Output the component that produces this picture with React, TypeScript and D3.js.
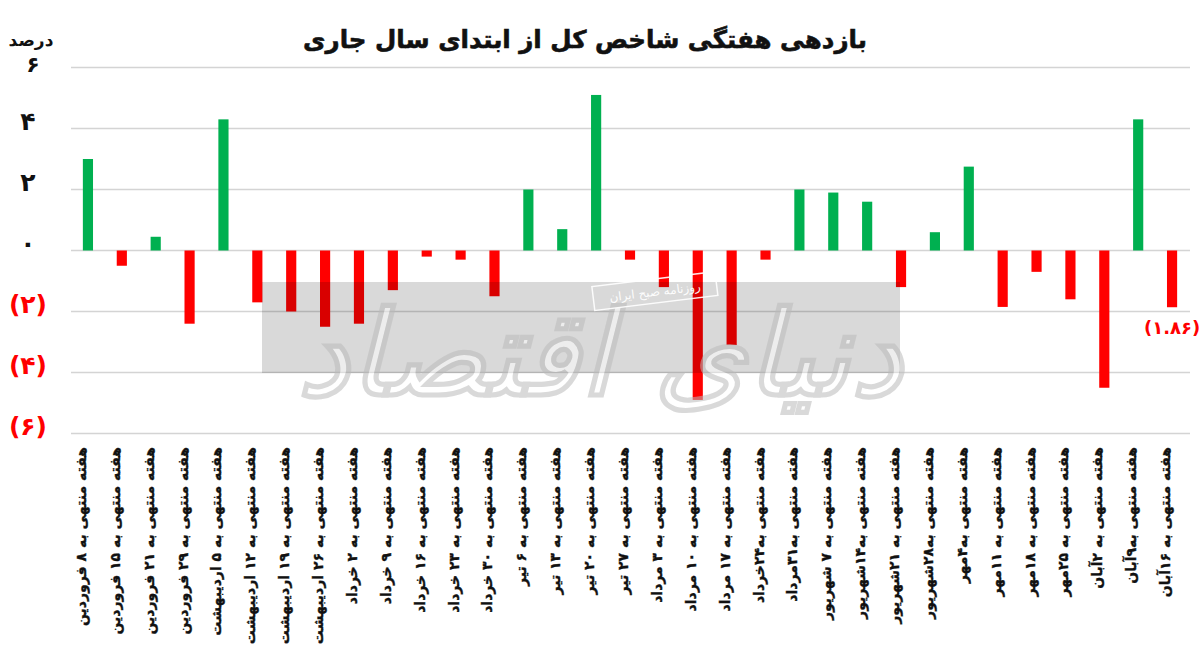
import React from "react";
import * as d3 from "d3";

const categories: string[] = [
  "هفته منتهی به ۸ فروردین",
  "هفته منتهی به ۱۵ فروردین",
  "هفته منتهی به ۲۱ فروردین",
  "هفته منتهی به ۲۹ فروردین",
  "هفته منتهی به ۵ اردیبهشت",
  "هفته منتهی به ۱۲ اردیبهشت",
  "هفته منتهی به ۱۹ اردیبهشت",
  "هفته منتهی به ۲۶ اردیبهشت",
  "هفته منتهی به ۲ خرداد",
  "هفته منتهی به ۹ خرداد",
  "هفته منتهی به ۱۶ خرداد",
  "هفته منتهی به ۲۳ خرداد",
  "هفته منتهی به ۳۰ خرداد",
  "هفته منتهی به ۶ تیر",
  "هفته منتهی به ۱۳ تیر",
  "هفته منتهی به ۲۰ تیر",
  "هفته منتهی به ۲۷ تیر",
  "هفته منتهی به ۳ مرداد",
  "هفته منتهی به ۱۰ مرداد",
  "هفته منتهی به ۱۷ مرداد",
  "هفته منتهی به۲۴خرداد",
  "هفته منتهی به۳۱مرداد",
  "هفته منتهی به ۷ شهریور",
  "هفته منتهی به۱۴شهریور",
  "هفته منتهی به ۲۱شهریور",
  "هفته منتهی به۲۸شهریور",
  "هفته منتهی به۴مهر",
  "هفته منتهی به ۱۱مهر",
  "هفته منتهی به ۱۸مهر",
  "هفته منتهی به ۲۵مهر",
  "هفته منتهی به ۲آبان",
  "هفته منتهی به۹آبان",
  "هفته منتهی به ۱۶آبان",
];

const values: number[] = [
  3.0, -0.5, 0.45, -2.4, 4.3, -1.7, -2.0, -2.5, -2.4, -1.3, -0.2, -0.3, -1.5,
  2.0, 0.7, 5.1, -0.3, -1.2, -4.9, -3.1, -0.3, 2.0, 1.9, 1.6, -1.2, 0.6, 2.75,
  -1.85, -0.7, -1.6, -4.5, 4.3, -1.86,
];

const yTicks: number[] = [6, 4, 2, 0, -2, -4, -6];
const yTickLabels: string[] = ["۶", "۴", "۲", "۰", "(۲)", "(۴)", "(۶)"];

const title = "بازدهی هفتگی شاخص کل از ابتدای سال جاری";
const unitLabel = "درصد";
const lastValueLabel = "(۱.۸۶)";

const GREEN = "#00b050";
const RED = "#ff0000";
const FONT = "'DejaVu Sans', 'Noto Sans', sans-serif";

export default function App() {
  const W = 1200;
  const H = 651;
  const x = d3
    .scaleBand<string>()
    .domain(categories)
    .range([71, 1189])
    .paddingInner(0.7)
    .paddingOuter(0.35);
  const y = d3.scaleLinear().domain([-6, 6]).range([433.5, 67.5]);
  const bw = x.bandwidth();
  const lastCat = categories[categories.length - 1];
  const lastVal = values[values.length - 1];

  return (
    <svg
      width={W}
      height={H}
      style={{ position: "absolute", left: 0, top: 0, background: "#fff" }}
      fontFamily={FONT}
    >
      <rect x={0} y={0} width={W} height={H} fill="#fff" />
      <text
        x={585}
        y={48}
        textAnchor="middle"
        fontSize={24.5}
        fontWeight="bold"
        fill="#111"
        stroke="#111"
        strokeWidth={0.6}
      >
        {title}
      </text>
      <text x={31} y={46} textAnchor="middle" fontSize={17} fontWeight="bold" fill="#111">
        {unitLabel}
      </text>
      {yTicks.map((t, i) => (
        <g key={t}>
          <line
            x1={71}
            x2={1190}
            y1={y(t)}
            y2={y(t)}
            stroke="#d4d4d4"
            strokeWidth={1.5}
          />
          <text
            x={i === 0 ? 33 : 28}
            y={y(t) + (i === 0 ? -2 : -6)}
            textAnchor="middle"
            dominantBaseline="middle"
            fontSize={i === 0 ? 22 : 25}
            fontWeight="bold"
            fill={t < 0 ? RED : "#111"}
          >
            {yTickLabels[i]}
          </text>
        </g>
      ))}
      {categories.map((c, i) => {
        const v = values[i];
        return (
          <rect
            key={c}
            x={x(c)!}
            width={bw}
            y={y(Math.max(0, v))}
            height={Math.abs(y(v) - y(0))}
            fill={v >= 0 ? GREEN : RED}
          />
        );
      })}
      {/* watermark */}
      <g>
        <rect x={262} y={282} width={638} height={91} fill="#000" opacity={0.15} />
        <text
          x={600}
          y={395}
          textAnchor="middle"
          fontSize={118}
          fontWeight="bold"
          fill="#fff"
          stroke="#bbb"
          strokeWidth={1.5}
          opacity={0.55}
          fontStyle="italic"
        >
          دنیای اقتصاد
        </text>
        <g transform="translate(655,292) rotate(-7)">
          <rect x={-62} y={-13} width={124} height={24} fill="none" stroke="#fff" strokeWidth={1.5} opacity={0.9} />
          <text x={0} y={4} textAnchor="middle" fontSize={12} fill="#fff" opacity={0.95}>
            روزنامه صبح ایران
          </text>
        </g>
      </g>
      <text
        x={x(lastCat)! + bw / 2}
        y={y(lastVal) + 27}
        textAnchor="middle"
        fontSize={18}
        fontWeight="bold"
        fill={RED}
      >
        {lastValueLabel}
      </text>
      {categories.map((c) => {
        const cx = x(c)! + bw / 2;
        return (
          <text
            key={"l" + c}
            transform={`translate(${cx - 6},447) rotate(-90)`}
            textAnchor="end"
            dominantBaseline="middle"
            fontSize={14}
            fontWeight="bold"
            fill="#111"
            stroke="#111"
            strokeWidth={0.4}
          >
            {c}
          </text>
        );
      })}
    </svg>
  );
}
